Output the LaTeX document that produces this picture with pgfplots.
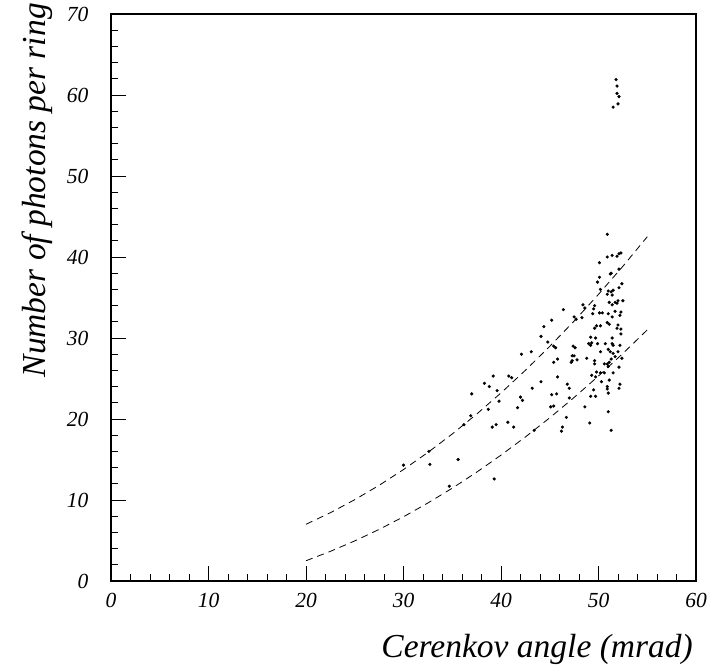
\documentclass[border=0pt]{standalone}
\usepackage{fontspec}
\setmainfont{Liberation Serif}
\usepackage{pgfplots}
\pgfplotsset{compat=1.18}
\usepackage{pgfplotstable}

\pgfplotstableread{
x y
30.0 14.3
32.6 16.0
32.7 14.4
35.6 15.0
34.7 11.7
36.2 19.3
38.3 24.4
38.8 24.0
37.0 23.1
39.6 23.5
39.8 22.2
38.7 21.2
36.9 20.4
39.1 19.0
39.5 19.3
39.3 12.6
46.4 33.5
48.4 34.1
48.6 33.7
47.7 32.3
48.3 32.5
47.5 32.6
45.2 32.2
44.4 31.4
44.1 30.2
44.8 29.5
45.4 29.0
45.6 28.8
43.1 28.3
42.1 28.0
47.4 29.0
47.6 28.8
47.3 27.8
47.5 27.8
47.2 27.0
47.3 27.2
47.8 27.3
45.8 27.4
45.4 27.0
49.0 29.3
39.2 25.3
40.8 25.3
41.1 25.1
42.0 22.7
42.2 22.3
41.7 21.4
43.2 23.8
44.1 24.6
45.8 25.2
46.8 24.3
47.0 23.8
45.2 23.0
45.7 23.1
47.0 22.6
45.1 21.5
45.4 21.6
48.6 21.5
46.7 20.2
40.7 19.6
41.3 19.0
46.3 19.0
46.2 18.5
43.4 18.6
49.1 19.5
50.9 42.8
50.1 39.3
50.9 40.0
51.4 40.2
51.9 40.1
52.1 40.4
52.3 40.5
51.3 38.0
51.2 37.9
52.1 38.5
50.1 37.5
49.9 36.9
52.4 36.7
52.1 36.2
50.2 36.0
51.0 35.8
51.3 35.7
51.5 35.9
50.9 35.4
51.4 35.3
51.1 34.4
51.7 34.4
51.9 34.3
52.0 34.6
52.5 34.6
51.4 34.1
49.6 34.0
49.5 33.6
50.1 33.1
49.4 33.0
50.4 33.1
51.0 33.0
51.4 32.6
51.7 33.3
52.3 33.2
52.2 32.8
49.8 31.5
49.6 31.2
50.2 31.5
50.9 31.9
51.1 31.7
52.0 31.6
51.9 31.2
52.3 31.1
49.2 30.1
49.7 30.0
51.4 30.0
52.3 30.5
49.3 29.4
49.2 29.1
49.9 29.3
50.7 29.3
51.4 29.3
51.5 29.1
52.2 29.1
50.2 28.3
51.0 28.6
51.2 28.3
51.5 28.1
52.0 28.3
48.8 27.5
49.6 27.2
49.6 26.8
51.3 27.4
51.7 27.7
52.4 27.5
51.1 27.0
50.6 26.8
50.9 26.8
51.0 26.5
52.1 26.4
49.8 25.8
50.2 25.7
50.6 25.7
51.5 25.7
49.3 25.4
49.7 25.2
51.1 24.8
50.3 24.6
50.9 24.0
50.9 23.7
52.2 24.3
52.1 23.8
49.5 23.6
51.0 23.2
49.2 22.8
49.7 22.8
51.0 20.9
51.3 18.6
51.8 61.9
51.9 61.1
51.9 60.2
52.1 59.8
52.0 58.9
51.5 58.5
}\scatterdata

\pgfplotstableread{
x y
20.0 7.00
22.5 8.43
25.0 10.04
27.5 11.81
30.0 13.76
32.5 15.87
35.0 18.15
37.5 20.60
40.0 23.22
42.5 26.01
45.0 28.97
47.5 32.09
50.0 35.39
52.5 38.85
55.0 42.50
}\uppercurve

\pgfplotstableread{
x y
20.0 2.50
22.5 3.66
25.0 4.95
27.5 6.37
30.0 7.93
32.5 9.63
35.0 11.46
37.5 13.43
40.0 15.54
42.5 17.78
45.0 20.15
47.5 22.66
50.0 25.31
52.5 28.09
55.0 31.00
}\lowercurve

\begin{document}
\begin{tikzpicture}
\begin{axis}[
  name=ax,
  scale only axis,
  width=585pt, height=567pt,
  xmin=0, xmax=60, ymin=0, ymax=70,
  xtick={0,10,...,60}, ytick={0,10,...,70},
  minor x tick num=4, minor y tick num=4,
  tick pos=left, tick align=inside,
  major tick length=15pt, minor tick length=7pt,
  axis line style={line width=1.2pt},
  every tick/.style={line width=0.9pt, black},
  /pgf/number format/assume math mode=true,
  tick label style={font=\itshape\fontsize{21.5}{21.5}\selectfont},
  xticklabel style={yshift=-9pt},
  yticklabel style={xshift=-19pt},
  clip=false,
  xlabel={Cerenkov angle (mrad)},
  ylabel={Number of photons per ring},
  xlabel style={at={(axis description cs:1,0)}, anchor=base east, yshift=-76pt, xshift=-3pt, inner sep=0pt, font=\itshape\fontsize{33.5}{33.5}\selectfont},
  ylabel style={at={(axis description cs:-0.1128,1.0194)}, anchor=base east, inner sep=0pt, font=\itshape\fontsize{33.5}{33.5}\selectfont},
]
\addplot[only marks, mark=*, mark size=1.4pt, black] table[x=x,y=y] {\scatterdata};
\addplot[black, line width=0.8pt, dash pattern=on 7pt off 5pt] table[x=x,y=y] {\uppercurve};
\addplot[black, line width=0.8pt, dash pattern=on 7pt off 5pt] table[x=x,y=y] {\lowercurve};
\end{axis}
\pgfresetboundingbox
\path[use as bounding box] ([shift={(-111pt,-87pt)}]ax.south west) rectangle ([shift={(14pt,14pt)}]ax.north east);
\end{tikzpicture}
\end{document}
